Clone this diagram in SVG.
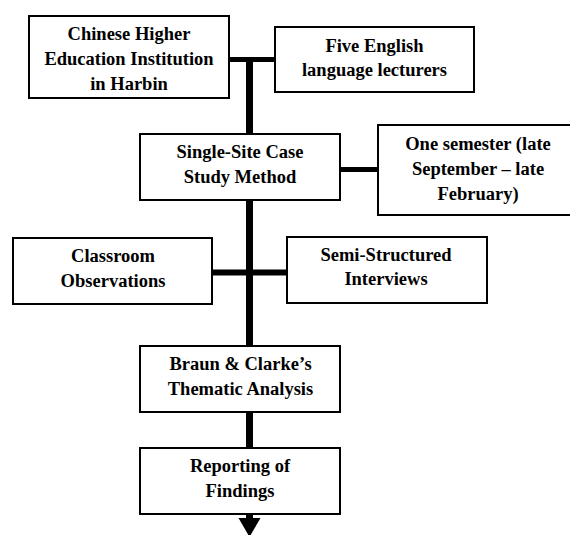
<svg xmlns="http://www.w3.org/2000/svg" width="570" height="535" viewBox="0 0 570 535">
<style>
.box{fill:#fff;stroke:#000;stroke-width:2}
.t{font-family:"Liberation Serif","Times New Roman",serif;font-weight:bold;font-size:18.5px;fill:#000;text-anchor:middle}
.c{stroke:#000;fill:none}
</style>
<rect width="570" height="535" fill="#fff"/>
<g id="connectors">
<line class="c" x1="249.5" y1="57" x2="249.5" y2="519" stroke-width="7"/>
<line class="c" x1="229" y1="59.5" x2="276" y2="59.5" stroke-width="5"/>
<line class="c" x1="340" y1="169.5" x2="378" y2="169.5" stroke-width="5"/>
<line class="c" x1="212" y1="272.5" x2="288" y2="272.5" stroke-width="6"/>
<polygon points="238.5,518 260.5,518 249.5,537" fill="#000"/>
</g>
<g id="n1"><rect class="box" x="29" y="16" width="200" height="82"/>
<text class="t" x="129" y="40">Chinese Higher</text><text class="t" x="129" y="65">Education Institution</text><text class="t" x="129" y="90">in Harbin</text></g>
<g id="n2"><rect class="box" x="275" y="27" width="199" height="65"/>
<text class="t" x="374.5" y="52">Five English</text><text class="t" x="374.5" y="76">language lecturers</text></g>
<g id="n3"><rect class="box" x="140" y="134" width="200" height="66"/>
<text class="t" x="240" y="158">Single-Site Case</text><text class="t" x="240" y="183">Study Method</text></g>
<g id="n4"><rect class="box" x="378" y="125" width="200" height="90"/>
<text class="t" x="478" y="150">One semester (late</text><text class="t" x="478" y="175">September – late</text><text class="t" x="478" y="200">February)</text></g>
<g id="n5"><rect class="box" x="13" y="238" width="199" height="66"/>
<text class="t" x="113" y="262">Classroom</text><text class="t" x="113" y="287">Observations</text></g>
<g id="n6"><rect class="box" x="287" y="237" width="200" height="66"/>
<text class="t" x="386" y="261">Semi-Structured</text><text class="t" x="386" y="285">Interviews</text></g>
<g id="n7"><rect class="box" x="140" y="346" width="200" height="66"/>
<text class="t" x="240.5" y="370">Braun &amp; Clarke’s</text><text class="t" x="240.5" y="395">Thematic Analysis</text></g>
<g id="n8"><rect class="box" x="140" y="448" width="200" height="66"/>
<text class="t" x="240" y="472">Reporting of</text><text class="t" x="240" y="497">Findings</text></g>
</svg>
